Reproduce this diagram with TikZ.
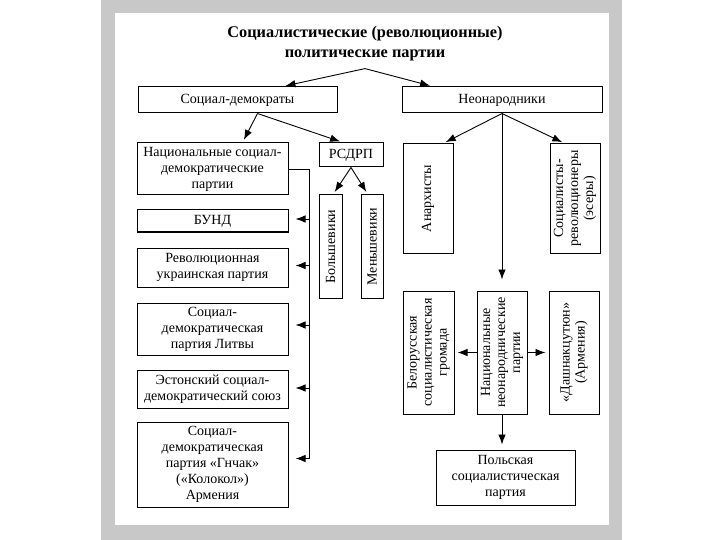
\documentclass[tikz,border=0pt]{standalone}
\usepackage{fontspec}
\setmainfont{Liberation Serif}
\usetikzlibrary{arrows.meta}
\definecolor{framegray}{RGB}{200,200,200}
\tikzset{
	box/.style={draw, line width=1pt, inner sep=1pt, align=center, font=\fontsize{14}{16}\selectfont},
	vbox/.style={box, rotate=90, font=\fontsize{14}{15}\selectfont},
	arr/.style={-{Latex[length=10pt,width=7.5pt]}, line width=0.9pt, shorten >=3pt},
}
\begin{document}
\begin{tikzpicture}[x=1pt,y=-1pt]
	\useasboundingbox (0,0) rectangle (720,540);
	\fill[framegray] (101,0) rectangle (622,540);
	\fill[white] (115,13) rectangle (609,525);
	% title
	\node[font=\bfseries\fontsize{16.3}{20}\selectfont, align=center, inner sep=1pt] (title) at (365,44)
		{Социалистические (революционные)\\политические партии};
	\coordinate (top) at ([yshift=-6pt]title.south);
	% two branches
	\node[box, minimum width=199pt, minimum height=26pt] (sd) at (237.5,100) {Социал-демократы};
	\node[box, minimum width=200pt, minimum height=26pt] (neo) at (502,100) {Неонародники};
	\draw[arr] (top) -- ([xshift=45pt]sd.north);
	\draw[arr] (top) -- ([xshift=-69pt]neo.north);
	% social democrats
	\node[box, minimum width=151pt, minimum height=52pt] (nat) at (212.5,169) {Национальные социал-\\демократические\\партии};
	\node[box, minimum width=64pt, minimum height=24pt] (rsdrp) at (351,155) {РСДРП};
	\node[box, minimum width=151pt, minimum height=22pt] (bund) at (212.5,221) {БУНД};
	\node[box, minimum width=151pt, minimum height=39pt] (ukr) at (212.5,267.5) {Революционная\\украинская партия};
	\node[box, minimum width=151pt, minimum height=52pt] (litva) at (212.5,329) {Социал-\\демократическая\\партия Литвы};
	\node[box, minimum width=151pt, minimum height=38pt] (eston) at (212.5,389) {Эстонский социал-\\демократический союз};
	\node[box, minimum width=151pt, minimum height=85pt] (gnchak) at (212.5,464.5) {Социал-\\демократическая\\партия «Гнчак»\\(«Колокол»)\\Армения};
	\node[vbox, minimum width=103pt, minimum height=23pt] (bolsh) at (330.5,246.5) {Большевики};
	\node[vbox, minimum width=103pt, minimum height=22pt] (mensh) at (372,246.5) {Меньшевики};
	\coordinate (sdfork) at ([xshift=20pt]sd.south);
	\draw[arr] (sdfork) -- ([xshift=30pt]nat.north);
	\draw[arr] (sdfork) -- ([xshift=-8pt]rsdrp.north);
	\draw[arr] (rsdrp.south) -- ([xshift=2.5pt]bolsh.east);
	\draw[arr] (rsdrp.south) -- ([xshift=-4pt]mensh.east);
	\coordinate (bus) at ([xshift=21pt]nat.east);
	\draw[line width=0.9pt] (nat.east) -- (bus) -- ([yshift=6pt]bus |- gnchak.east);
	\foreach \b/\s in {bund/2,ukr/2,litva/4,eston/1,gnchak/6}{
		\draw[arr, shorten >=7pt] ([yshift=\s pt]bus |- \b.east) -- ([yshift=\s pt]\b.east);
	}
	% neonarodniki
	\node[vbox, minimum width=109pt, minimum height=50pt] (anarch) at (428,198.5) {Анархисты};
	\node[vbox, minimum width=109pt, minimum height=50pt] (sr) at (575,198.5) {Социалисты-\\революционеры\\(эсеры)};
	\node[vbox, minimum width=123pt, minimum height=51pt] (bel) at (428.5,352.5) {Белорусская\\социалистическая\\громада};
	\node[vbox, minimum width=123pt, minimum height=50pt] (natneo) at (502,352.5) {Национальные\\неонароднические\\партии};
	\node[vbox, minimum width=123pt, minimum height=50pt] (dashn) at (574,352.5) {«Дашнакцутюн»\\(Армения)};
	\node[box, minimum width=139pt, minimum height=55pt] (polish) at (505.5,477.5) {Польская\\социалистическая\\партия};
	\coordinate (neofork) at (neo.south);
	\draw[arr] (neofork) -- ([xshift=15pt]anarch.east);
	\draw[arr] (neofork) -- ([xshift=-10pt]sr.east);
	\draw[arr, shorten >=11pt] (neofork) -- (natneo.east);
	\draw[arr] (natneo.north) -- (bel.south);
	\draw[arr] (natneo.south) -- (dashn.north);
	\draw[arr, shorten >=5pt] (natneo.west) -- (natneo.west |- polish.north);
\end{tikzpicture}
\end{document}
